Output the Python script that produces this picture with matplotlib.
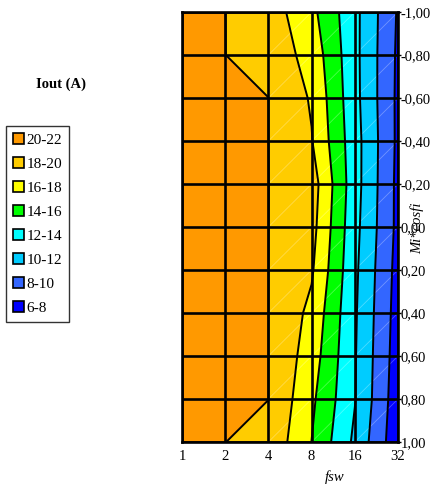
import numpy as np
import matplotlib.pyplot as plt
from matplotlib.patches import Patch

plt.rcParams['font.family'] = ['Liberation Serif', 'DejaVu Serif']

# frequency categories (equally spaced on the chart) and Mi*cosfi rows
fsw = ['1', '2', '4', '8', '16', '32']
mi = [-1.0, -0.8, -0.6, -0.4, -0.2, 0.0, 0.2, 0.4, 0.6, 0.8, 1.0]

# Iout (A), one row per Mi*cosfi value, one column per fsw
iout = [
    [21.0, 20.01, 19.03, 16.52, 12.55, 7.8],
    [21.0, 20.01, 19.31, 17.26, 12.55, 7.66],
    [21.0, 20.7, 20.01, 17.8, 12.6, 7.6],
    [21.0, 20.7, 20.01, 18.1, 12.8, 7.6],
    [21.0, 20.7, 20.01, 19.0, 12.8, 7.5],
    [21.0, 20.7, 20.01, 18.7, 12.6, 7.5],
    [21.0, 20.7, 20.01, 18.25, 12.4, 7.3],
    [21.0, 20.7, 20.01, 17.5, 12.25, 7.15],
    [21.0, 20.7, 20.01, 17.0, 12.15, 7.0],
    [21.0, 20.7, 20.01, 16.4, 12.1, 6.8],
    [21.0, 20.01, 19.57, 15.98, 11.6, 6.6],
]

levels = [6, 8, 10, 12, 14, 16, 18, 20, 22]
colors = ['#0000FF', '#3366FF', '#00CCFF', '#00FFFF', '#00FF00',
          '#FFFF00', '#FFCC00', '#FF9900']
band_labels = ['6-8', '8-10', '10-12', '12-14', '14-16', '16-18', '18-20', '20-22']

xi = np.arange(len(fsw))
X, Y = np.meshgrid(xi, mi)
Z = np.array(iout)

fig = plt.figure(figsize=(4.3, 4.86), dpi=100)
ax = fig.add_axes([182/430, 1-442/486, 216/430, 430/486])

ax.contourf(X, Y, Z, levels=levels, colors=colors)

# faint mesh diagonals (not visible on the orange part of the original)
for i in range(2, len(xi)-1):
    for j in range(len(mi)-1):
        ax.plot([xi[i], xi[i+1]], [mi[j+1], mi[j]], color='white', lw=0.6, alpha=0.3, zorder=2)

ax.contour(X, Y, Z, levels=levels[1:-1], colors='k', linewidths=1.4, zorder=3)

for x in xi:
    ax.axvline(x, color='k', lw=1.9, zorder=4)
for y in mi:
    ax.axhline(y, color='k', lw=1.9, zorder=4)

ax.set_xlim(xi[0], xi[-1])
ax.set_ylim(mi[-1], mi[0])
ax.set_xticks(xi)
ax.set_xticklabels(fsw, fontsize=10.5)
ax.tick_params(axis='x', length=0, pad=6)
ax.yaxis.tick_right()
ax.set_yticks(mi)
ax.set_yticklabels([('%.2f' % v).replace('.', ',') for v in mi], fontsize=10.5)
ax.tick_params(axis='y', length=2, width=1, pad=0)
for s in ax.spines.values():
    s.set_linewidth(1.9)

fig.text(335/430, 1-477/486, 'fsw', style='italic', fontsize=10.5, ha='center', va='center')
fig.text(417/430, 1-228/486, 'Mi*cosfi', style='italic', fontsize=10.5, rotation=90,
         ha='center', va='center')
fig.text(61/430, 1-84/486, 'Iout (A)', fontweight='bold', fontsize=10.5, ha='center', va='center')

handles = [Patch(facecolor=c, edgecolor='k', lw=1.2) for c in colors[::-1]]
leg = fig.legend(handles, band_labels[::-1], loc='upper left',
                 bbox_to_anchor=(6/430, 1-126/486), fontsize=11,
                 frameon=True, fancybox=False, handlelength=0.7, handleheight=0.7,
                 handletextpad=0.2, labelspacing=0.68, borderpad=0.45, borderaxespad=0)
leg.get_frame().set_edgecolor('k')
leg.get_frame().set_linewidth(1.0)

fig.savefig('out.png', dpi=100)
